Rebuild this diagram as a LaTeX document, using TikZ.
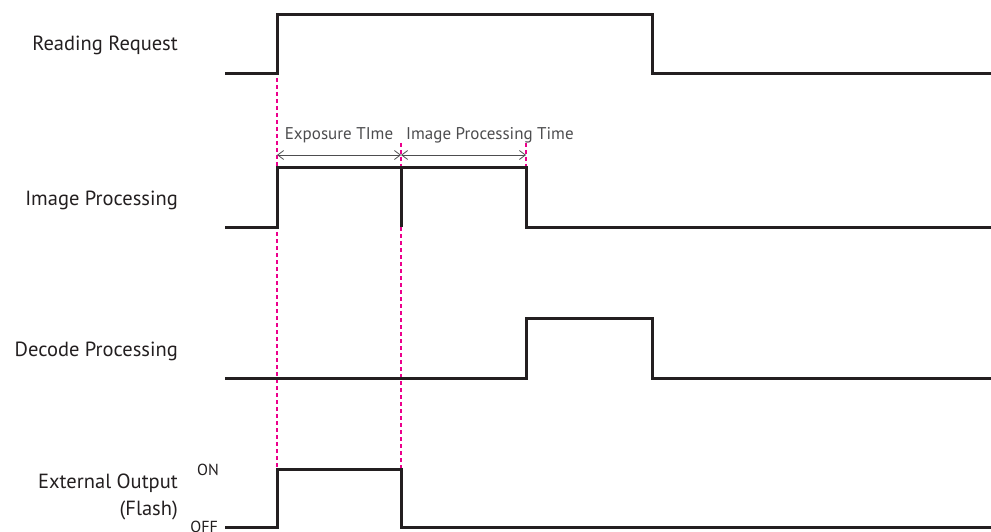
\documentclass[tikz,border=0pt]{standalone}
\usepackage{fontspec}
\setmainfont{PT Sans}
\usetikzlibrary{arrows.meta}
\definecolor{sig}{HTML}{231F20}
\definecolor{guide}{HTML}{EC008C}
\definecolor{labgray}{HTML}{4D4D4F}
\begin{document}
\begin{tikzpicture}[x=1pt,y=-1pt,
  signal/.style={draw=sig,line width=3pt,line join=miter},
  guideline/.style={draw=guide,line width=1.3pt,dash pattern=on 4pt off 3pt},
  span/.style={draw=labgray,line width=0.8pt,{Straight Barb[length=6pt,width=9pt]}-{Straight Barb[length=6pt,width=9pt]}},
  rowlabel/.style={anchor=base east,inner sep=0pt,text=sig,font=\fontsize{20.5}{24}\selectfont},
  spanlabel/.style={anchor=base,inner sep=0pt,text=labgray,font=\fontsize{17}{20}\selectfont},
  levellabel/.style={anchor=base east,inner sep=0pt,text=sig,font=\fontsize{16}{18}\selectfont}]
\useasboundingbox (0,0) rectangle (991,532);
% guide lines
\draw[guideline] (277,78) -- (277,527);
\draw[guideline] (401,143) -- (401,527);
\draw[guideline] (526,143) -- (526,168);
% spans
\coordinate (a1) at (277,155);
\coordinate (a2) at (401,155);
\coordinate (a3) at (526,155);
\draw[span] (a1) -- (a2);
\draw[span] (a2) -- (a3);
\node[spanlabel] (exp) at (339,140) {Exposure TIme};
\node[spanlabel,anchor=base west] (ipt) at (406,140) {Image Processing Time};
% signals
\draw[signal] (225,74) -- (277,74) -- (277,15) -- (652,15) -- (652,74) -- (991,74);
\draw[signal] (225,227) -- (277,227) -- (277,168) -- (526,168) -- (526,227) -- (991,227);
\draw[signal] (401,168) -- (401,227);
\draw[signal] (225,378) -- (526,378) -- (526,318) -- (652,318) -- (652,378) -- (991,378);
\draw[signal] (225,527) -- (277,527) -- (277,469) -- (401,469) -- (401,527) -- (991,527);
% labels
\node[rowlabel] (rr) at (178,51) {Reading Request};
\node[rowlabel] (ip) at (178,205) {Image Processing};
\node[rowlabel] (dp) at (178,356.5) {Decode Processing};
\node[rowlabel] (eo) at (178,488) {External Output};
\node[rowlabel] (fl) at (178,515) {(Flash)};
\node[levellabel] (on) at (219,475.5) {ON};
\node[levellabel] (off) at (218,532) {OFF};
\end{tikzpicture}
\end{document}
